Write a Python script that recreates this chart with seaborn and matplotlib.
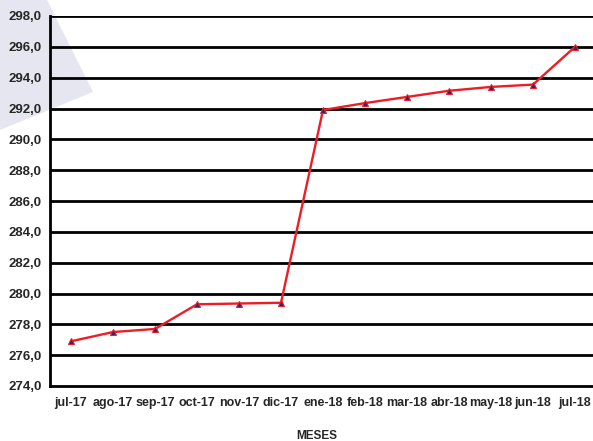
import seaborn as sns
import matplotlib.pyplot as plt
import matplotlib.patches as mpatches
import pandas as pd
import numpy as np

meses = ['jul-17', 'ago-17', 'sep-17', 'oct-17', 'nov-17', 'dic-17', 'ene-18',
         'feb-18', 'mar-18', 'abr-18', 'may-18', 'jun-18', 'jul-18']
valores = [276.9, 277.5, 277.7, 279.3, 279.35, 279.4, 291.9,
           292.35, 292.75, 293.15, 293.4, 293.55, 296.0]

df = pd.DataFrame({'mes': meses, 'valor': valores})

sns.set_style('white')
plt.rcParams['font.family'] = ['Liberation Sans', 'DejaVu Sans']

fig = plt.figure(figsize=(5.93, 4.41), dpi=100)

# triangulo decorativo de fondo
tri = mpatches.Polygon([[47/593, 1], [93/593, 1 - 92/441], [0, 1 - 130/441], [0, 1]],
                       closed=True, transform=fig.transFigure, facecolor='#e6e6f0',
                       edgecolor='none', zorder=-5)
fig.add_artist(tri)

ax = fig.add_axes([50/593, 55/441, 546/593, 370/441])
ax.patch.set_alpha(0)

sns.lineplot(x=np.arange(len(meses)), y='valor', data=df, ax=ax, color='#ee1c25',
             linewidth=1.7, marker='^', markersize=5, markerfacecolor='#1f2a7a',
             markeredgecolor='#ee1c25', markeredgewidth=0.8, zorder=5)

ax.set_ylim(274, 298)
ax.set_yticks(np.arange(274, 298.1, 2))
ax.set_yticklabels([f'{v:.1f}'.replace('.', ',') for v in np.arange(274, 298.1, 2)],
                   fontsize=9.5, fontweight='bold')
ax.set_xlim(-0.5, 12.5)
ax.set_xticks(np.arange(len(meses)))
ax.set_xticklabels(meses, fontsize=9, fontweight='bold')
ax.set_xticks(np.arange(-0.5, 12.6, 1), minor=True)
ax.tick_params(axis='x', which='major', length=0, pad=8)
ax.tick_params(axis='x', which='minor', length=4, width=1.5, color='black', direction='out')
ax.tick_params(axis='y', length=4, width=1.5, color='black', direction='out', pad=2)

for v in np.arange(276, 298.1, 2):
    ax.axhline(v, color='black', linewidth=2, zorder=1)

for s in ['top', 'right']:
    ax.spines[s].set_visible(False)
for s in ['left', 'bottom']:
    ax.spines[s].set_color('black')
    ax.spines[s].set_linewidth(2)

ax.set_xlabel('MESES', fontsize=8.5, fontweight='bold')
ax.xaxis.set_label_coords(267/546, -44/370)
ax.xaxis.label.set_verticalalignment('top')
ax.set_ylabel('')

plt.savefig('out.png', dpi=100)
